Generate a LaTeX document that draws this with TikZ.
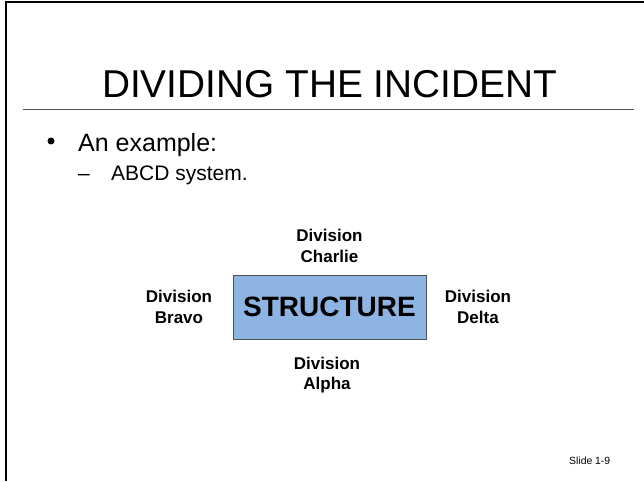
\documentclass[tikz,border=0pt]{standalone}
\usepackage{fontspec}
\setmainfont{Liberation Sans}
\definecolor{boxblue}{HTML}{8EB4E3}
\definecolor{boxedge}{HTML}{505050}
\definecolor{rulegray}{HTML}{505050}
\tikzset{
  divlabel/.style={font=\bfseries\fontsize{17}{20.5}\selectfont, align=center, inner sep=0pt, anchor=center},
  plain/.style={inner sep=0pt, anchor=base west},
}
\begin{document}
\begin{tikzpicture}[x=1pt,y=-1pt]
\useasboundingbox (0,0) rectangle (644,481);
% slide frame (left and top edges)
\draw[line width=2pt] (6,481) -- (6,2) -- (644,2);
% title
\node[inner sep=0pt, anchor=base, font=\fontsize{38.8}{44}\selectfont] (title) at (329.5,98) {DIVIDING THE INCIDENT};
\draw[line width=0.9pt, rulegray] (23,109) -- (634,109);
% bullets
\fill (51,141) circle (3.5pt);
\node[plain, font=\fontsize{25}{30}\selectfont] (ex) at (78,151) {An example:};
\node[plain, font=\fontsize{21}{25}\selectfont] (dash) at (78,180) {–};
\node[plain, font=\fontsize{21}{25}\selectfont] (abcd) at (111,180) {ABCD system.};
% structure box
\draw[fill=boxblue, draw=boxedge, line width=0.9pt] (233,275) rectangle (426,339);
\node[inner sep=0pt, font=\bfseries\fontsize{28}{32}\selectfont] (structure) at (329.5,307) {STRUCTURE};
% division labels
\node[divlabel] (charlie) at (329.5,245.8) {Division\\Charlie};
\node[divlabel] (bravo) at (179,306.8) {Division\\Bravo};
\node[divlabel] (delta) at (478,306.8) {Division\\Delta};
\node[divlabel] (alpha) at (327,375.1) {Division\\Alpha};
% slide number
\node[plain, font=\fontsize{10.4}{12}\selectfont] (slideno) at (569,464) {Slide 1-9};
\end{tikzpicture}
\end{document}
